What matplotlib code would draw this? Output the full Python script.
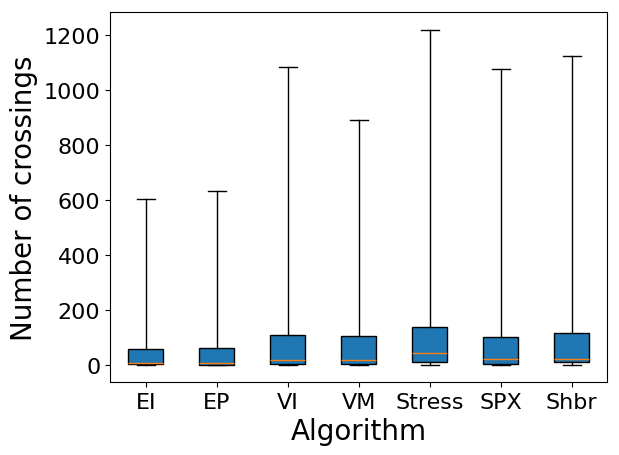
import matplotlib
matplotlib.use("Agg")
import matplotlib.pyplot as plt

algorithms = ["EI", "EP", "VI", "VM", "Stress", "SPX", "Shbr"]
whisker_low = [0, 0, 0, 0, 0, 0, 0]
q1 = [2, 1, 3, 3, 11, 4, 10]
median = [7, 6, 17, 17, 44, 20, 20]
q3 = [58, 62, 109, 104, 137, 100, 116]
whisker_high = [603, 632, 1082, 890, 1220, 1075, 1122]

stats = []
for name, lo, a, m, b, hi in zip(algorithms, whisker_low, q1, median, q3, whisker_high):
    stats.append(dict(label=name, whislo=lo, q1=a, med=m, q3=b, whishi=hi, fliers=[]))

fig = plt.figure(figsize=(6.19, 4.56), dpi=100)
ax = fig.add_axes([0.178, 0.160, 0.803, 0.811])
ax.bxp(stats, showfliers=False, patch_artist=True,
       boxprops=dict(facecolor="#1f77b4", edgecolor="black"),
       medianprops=dict(color="#ff7f0e"))
ax.set_ylim(-62, 1283)
ax.set_xlabel("Algorithm", fontsize=20)
ax.set_ylabel("Number of crossings", fontsize=20)
ax.tick_params(labelsize=16)
fig.savefig("out.png", dpi=100)
